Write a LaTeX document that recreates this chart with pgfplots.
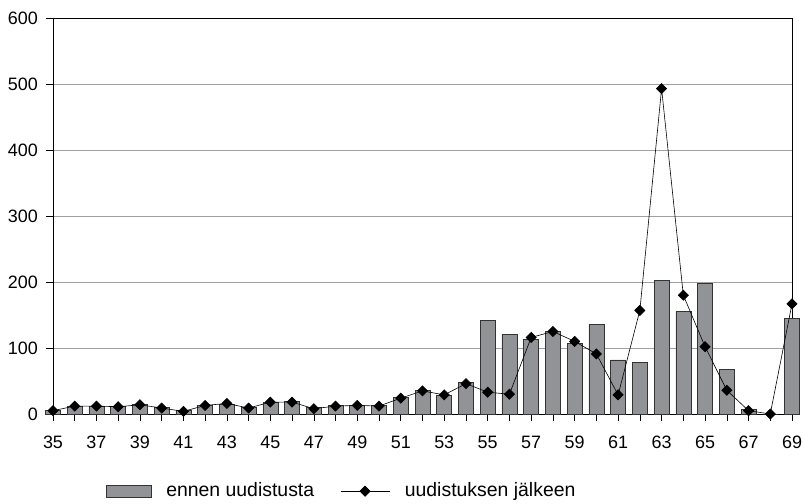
\documentclass[border=0pt]{standalone}
\usepackage{pgfplots}
\pgfplotsset{compat=1.18}
\usepackage{pgfplotstable}
\usepackage{fontspec}
\setmainfont{Liberation Sans}
\definecolor{bargray}{RGB}{146,147,151}
\definecolor{gridgray}{RGB}{160,160,160}

\pgfplotsset{
    barlegend/.style={legend image code/.code={\draw[##1] (0bp,-6bp) rectangle (45bp,6bp);}},
    linelegend/.style={legend image code/.code={\draw[mark repeat=2, mark phase=2, ##1]
        plot coordinates {(0bp,0bp) (24.5bp,0bp) (49bp,0bp)};}},
}

% age, before reform (bars), after reform (line)
\pgfplotstableread{
x   before after
35  6   5
36  12  12
37  12  12
38  12  11
39  14  14
40  10  9
41  5   4
42  13  13
43  15  16
44  10  9
45  18  18
46  19  18
47  10  8
48  13  12
49  13  13
50  13  12
51  25  24
52  36  35
53  29  29
54  48  46
55  142 33
56  121 30
57  113 116
58  125 125
59  107 110
60  136 91
61  82  29
62  78  157
63  203 493
64  156 180
65  198 102
66  67  36
67  7   5
68  0   0
69  145 167
}\data

\begin{document}
\fontsize{18}{21}\selectfont
\begin{tikzpicture}
\useasboundingbox (-53bp,-90bp) rectangle (751bp,414bp);
\clip (-53bp,-90bp) rectangle (751bp,414bp);
\begin{axis}[
    scale only axis,
    width=739bp, height=396bp,
    xmin=35, xmax=69,
    ymin=0, ymax=600,
    clip=false,
    axis line style={black, line width=0.8pt},
    xtick={35,37,...,69},
    minor xtick={36,38,...,68},
    ytick={0,100,...,600},
    xtick pos=bottom, ytick pos=left,
    tick align=outside,
    major tick length=7bp,
    minor tick length=7bp,
    tick style={black, line width=0.6pt},
    ymajorgrids,
    grid style={gridgray, line width=0.8pt},
    /pgf/number format/assume math mode=true,
    xticklabel style={yshift=-9bp},
    yticklabel style={xshift=-2bp},
    legend columns=2,
    legend style={
        at={(axis description cs:0.071,-0.195)}, anchor=west,
        draw=none, fill=none, inner sep=0pt,
        font=\fontsize{19.5}{22}\selectfont,
        /tikz/every odd column/.append style={column sep=13bp},
        /tikz/every even column/.append style={column sep=24bp},
    },
    legend cell align=left,
]
\addplot[ybar, bar width=15bp, fill=bargray, draw=black!80, line width=0.6pt, barlegend]
    table[x=x, y=before] {\data};
\addlegendentry{ennen uudistusta}
\addplot[black, line width=0.6pt, mark=square*, mark size=3.6bp,
    mark options={rotate=45}, linelegend]
    table[x=x, y=after] {\data};
\addlegendentry{uudistuksen jälkeen}
\end{axis}
\end{tikzpicture}
\end{document}
